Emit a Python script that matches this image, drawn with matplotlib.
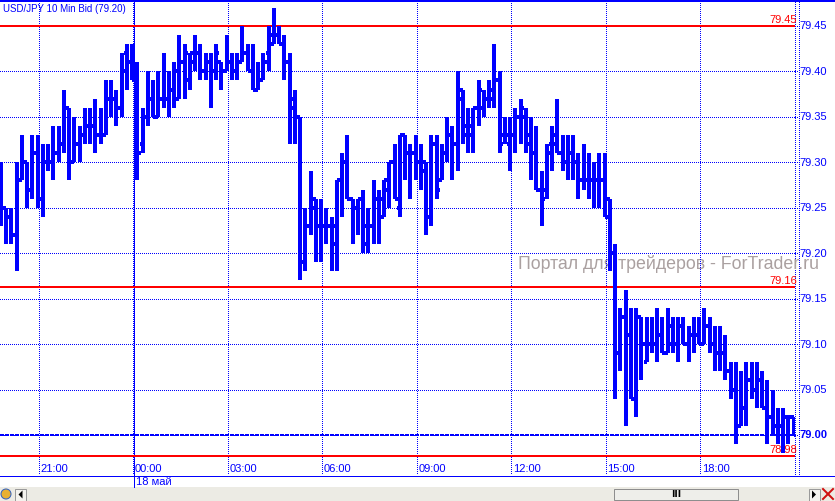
import matplotlib
matplotlib.use("Agg")
import matplotlib.pyplot as plt
from matplotlib.collections import LineCollection
from matplotlib.patches import Rectangle, Polygon

plt.rcParams['lines.scale_dashes'] = False

# ---------------- data (USD/JPY 10 min bid, price = 79.00 + pips/100) ----------------
base_price = 79.00
open_pips = [27,25,24,22,28,30,27,31,26,30, 30,31,32,36,30,32,33,34,34,33,
             33,37,37,36,42,41,39,32,35,37, 35,37,37,38,37,41,39,41,42,40,
             41,40,41,40,41,40,41,42,40,38, 39,42,43,44,43,41,37,35,19,23,
             26,23,23,23,23,28,30,26,25,26, 21,23,26,24,27,30,25,33,31,31,
             30,30,24,32,28,31,33,32,38,34, 33,36,36,37,37,39,33,32,33,35,
             35,32,31,27,27,32,32,31,30,31, 30,28,28,28,28,28,26,20,9,13,
             11,4,13,8,10,10,11,9,10,10, 12,10,11,11,10,12,10,9,9,7,
             5,1,3,6,5,6,3,2,1,1, 2,2]
high_pips = [30,25,25,30,33,30,33,33,32,32, 34,34,38,36,35,34,36,36,37,36,
             39,39,38,42,43,43,41,36,40,39, 40,42,40,41,44,43,42,44,43,42,
             42,43,41,44,42,42,45,43,43,41, 42,45,47,45,44,42,38,35,25,29,
             26,26,25,24,28,31,33,26,26,27, 25,28,27,28,30,32,33,33,32,33,
             32,30,33,33,32,35,34,40,38,36, 36,39,38,39,43,40,35,35,36,37,
             36,35,34,29,32,34,37,33,33,33, 31,32,31,30,31,31,26,21,14,16,
             14,14,13,13,13,14,13,14,13,13, 13,12,13,13,14,13,12,12,11,8,
             8,7,8,8,8,7,6,5,3,3, 2,2]
low_pips = [23,21,21,18,28,25,26,25,24,29, 28,30,31,28,30,30,32,32,31,32,
            33,35,34,35,38,39,28,31,34,35, 35,36,35,36,37,37,38,40,39,39,
            36,39,38,40,39,39,41,40,38,38, 39,40,43,43,39,32,32,17,18,22,
            19,19,21,18,18,24,26,21,22,20, 20,21,21,24,25,26,24,28,26,28,
            27,22,23,26,28,30,28,29,32,31, 31,34,35,36,36,31,32,29,31,32,
            31,28,27,23,26,29,31,29,28,28, 26,27,26,25,25,24,18,4,7,1,
            4,2,6,8,9,8,9,9,9,8, 10,8,9,10,10,9,7,7,6,4,
            -1,1,1,4,3,3,-1,0,-1,-2, -1,0]
close_pips = [25,24,22,28,30,27,31,26,30,30, 31,32,36,30,32,33,34,34,33,33,
              37,37,36,40,41,39,31,35,37,35, 37,37,38,40,41,42,42,42,40,41,
              40,42,40,41,40,41,42,40,38,39, 41,44,44,43,41,36,35,19,23,25,
              23,23,23,21,28,30,26,25,26,23, 23,26,26,28,30,26,33,31,31,30,
              29,24,32,27,31,33,32,37,33,34, 36,38,37,38,39,32,33,33,35,36,
              33,31,27,26,31,33,31,30,31,30, 28,28,28,28,28,24,20,9,13,11,
              4,13,10,10,10,11,9,12,10,12, 10,11,11,10,12,10,9,9,7,5,
              1,3,6,5,6,3,2,1,1,2, 2,0]

time_labels = ["21:00", "00:00", "03:00", "06:00", "09:00", "12:00", "15:00", "18:00"]
time_label_bar = [7, 25, 43, 61, 79, 97, 115, 133]
day_label = "18 май"
price_ticks = [79.00, 79.05, 79.10, 79.15, 79.20, 79.25, 79.30, 79.35, 79.40, 79.45]
level_prices = [79.45, 79.163, 78.977]
level_labels = ["79.45", "79.16", "78.98"]
last_price = 79.00
title = "USD/JPY 10 Min Bid (79.20)"
watermark = "Портал для трейдеров - ForTrader.ru"

# ---------------- geometry ----------------
W, H = 835, 501
fig = plt.figure(figsize=(W / 100, H / 100), dpi=100)
fig.patch.set_facecolor('white')

BLUE = '#0000FF'
RED = '#FF0000'
px = 0.72  # one pixel in points

plot_l, plot_r, plot_t, plot_b = 0, 795, 2, 475
bar_x0, bar_dx = 1.0, 5.25
ppu = 909.0            # pixels per price unit
y_ref_px, y_ref_p = 435.0, 79.00

def p2y(p):
    return y_ref_px - (p - y_ref_p) * ppu

def i2x(i):
    return bar_x0 + bar_dx * i

# overlay (beneath) in pixel coordinates
ov = fig.add_axes([0, 0, 1, 1], zorder=0)
ov.set_xlim(0, W)
ov.set_ylim(H, 0)
ov.axis('off')

ax = fig.add_axes([plot_l / W, 1 - plot_b / H, (plot_r - plot_l) / W, (plot_b - plot_t) / H], zorder=1)
ax.set_facecolor('none')
ax.set_xlim((plot_l - bar_x0) / bar_dx, (plot_r - bar_x0) / bar_dx)
ax.set_ylim(y_ref_p - (plot_b - y_ref_px) / ppu, y_ref_p + (y_ref_px - plot_t) / ppu)
for s in ax.spines.values():
    s.set_visible(False)
ax.set_xticks([])
ax.set_yticks([])

dot = (0, (1 * px, 2 * px))

# watermark (behind bars)
ov.text(518, 264, watermark, fontsize=12.8, family='Liberation Sans', color='#AAA0A0',
        ha='left', va='center')

# horizontal grid
for p in price_ticks:
    ax.axhline(p, color=BLUE, lw=px, linestyle=dot, zorder=1, antialiased=False)
    ov.plot([795, 799], [p2y(p), p2y(p)], color=BLUE, lw=px, linestyle=dot, antialiased=False)

# vertical grid
for b in time_label_bar:
    ax.axvline(b + 0.2, color=BLUE, lw=px, linestyle=dot, zorder=1, antialiased=False)
ov.plot([795, 795], [2, 475], color=BLUE, lw=px, linestyle=dot, antialiased=False)
ov.plot([798.5, 798.5], [2, 475], color=BLUE, lw=px, linestyle=dot, antialiased=False)

# day separator (00:00)
day_x = round(i2x(25.2)) + 0.5
ov.plot([day_x, day_x], [2, 487], color=BLUE, lw=px, antialiased=False)

# levels
for p, lab in zip(level_prices, level_labels):
    ax.axhline(p, color=RED, lw=2 * px, zorder=2, antialiased=False)
    ov.text(797, p2y(p) - 0.5, lab, color=RED, fontsize=8, family='Liberation Sans',
            ha='right', va='bottom')

# current price dashed line
ax.axhline(last_price, color=BLUE, lw=2 * px, linestyle=(0, (4 * px, 2 * px)), zorder=2,
           antialiased=False)

# OHLC bars
segs = []
tick = 0.6
for i in range(len(open_pips)):
    o = base_price + open_pips[i] / 100
    h = base_price + high_pips[i] / 100
    l = base_price + low_pips[i] / 100
    c = base_price + close_pips[i] / 100
    segs.append([(i, l), (i, h)])
    segs.append([(i - tick, o), (i, o)])
    segs.append([(i, c), (i + tick, c)])
lc = LineCollection(segs, colors=BLUE, linewidths=2.3 * px, capstyle='butt', zorder=3,
                    antialiaseds=False)
ax.add_collection(lc)

# frame lines
ov.plot([0, W], [0.8, 0.8], color=BLUE, lw=2 * px, antialiased=False)
ov.plot([0, W], [475.5, 475.5], color=BLUE, lw=px, antialiased=False)

# title
ov.text(3, 8.5, title, color=BLUE, fontsize=7, family='Liberation Sans', ha='left', va='center')

# price labels
for p in price_ticks:
    ov.text(799.5, p2y(p) + 0.5, f"{p:.2f}", color=BLUE, fontsize=8, family='Liberation Sans',
            ha='left', va='center', fontweight='bold' if abs(p - last_price) < 1e-9 else 'normal')

# time labels
for lab, b in zip(time_labels, time_label_bar):
    ov.text(i2x(b + 0.2) + 1.5, 468.5, lab, color=BLUE, fontsize=8, family='Liberation Sans',
            ha='left', va='center')
ov.text(day_x + 2, 482, day_label, color=BLUE, fontsize=8, family='Liberation Sans',
        ha='left', va='center')

# scroll bar strip
ov.add_patch(Rectangle((0, 487), W, 14, facecolor='#ECEBE4', edgecolor='none'))
ov.add_patch(Rectangle((14.5, 488.5), 11.5, 12, facecolor='#F4F3EE', edgecolor='#9A9A9A', lw=px))
ov.add_patch(Polygon([(22.5, 490.5), (22.5, 498.5), (18.5, 494.5)], closed=True, facecolor='black'))
ov.add_patch(Rectangle((613.5, 488.5), 124.5, 11, facecolor='#EEEEEA', edgecolor='#8E8E8E', lw=px))
ov.text(676, 494.5, "III", color='black', fontsize=6.5, family='DejaVu Sans', ha='center',
        va='center', fontweight='bold')
ov.add_patch(Rectangle((808.5, 488.5), 11.5, 12, facecolor='#F4F3EE', edgecolor='#9A9A9A', lw=px))
ov.add_patch(Polygon([(812, 490.5), (812, 498.5), (816, 494.5)], closed=True, facecolor='black'))
ov.plot([823, 833], [489, 499], color='#D01010', lw=2 * px)
ov.plot([823, 833], [499, 489], color='#D01010', lw=2 * px)
# small icon at the left
ov.add_patch(plt.Circle((6, 494), 5, facecolor='#E8B030', edgecolor='#3060C0', lw=px))

fig.savefig("out.png", dpi=100, facecolor='white')
